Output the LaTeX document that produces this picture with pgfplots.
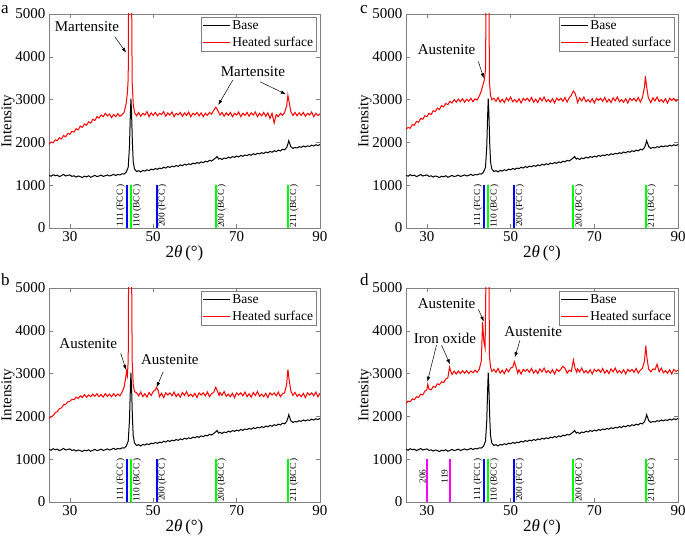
\documentclass[border=0pt]{standalone}
\usepackage{fontspec}
\setmainfont{Liberation Serif}
\usepackage{pgfplots}
\pgfplotsset{compat=1.18}
\usepackage{pgfplotstable}
\usetikzlibrary{arrows.meta}

\pgfplotstableread{
x y
25 1230
25.5 1210
26 1245
26.5 1220
27 1235
27.5 1200
28 1225
28.5 1250
29 1215
29.5 1230
30 1240
30.5 1205
31 1220
31.5 1190
32 1215
32.5 1200
33 1180
33.5 1210
34 1195
34.5 1220
35 1185
35.5 1205
36 1230
36.5 1200
37 1215
37.5 1235
38 1205
38.5 1220
39 1240
39.5 1215
40 1230
40.5 1255
41 1225
41.5 1250
42 1240
42.5 1265
43 1260
43.5 1300
44 1420
44.3 1900
44.5 2600
44.65 3020
44.8 2700
45 2000
45.2 1550
45.5 1380
46 1320
46.5 1340
47 1310
47.5 1345
48 1330
48.5 1360
49 1340
49.5 1375
50 1360
50.5 1390
51 1370
51.5 1400
52 1385
52.5 1420
53 1400
53.5 1435
54 1415
54.5 1445
55 1430
55.5 1460
56 1440
56.5 1475
57 1455
57.5 1490
58 1470
58.5 1500
59 1480
59.5 1515
60 1500
60.5 1530
61 1510
61.5 1545
62 1525
62.5 1560
63 1545
63.5 1580
64 1565
64.5 1600
65 1640
65.3 1670
65.7 1610
66 1630
66.5 1600
67 1635
67.5 1620
68 1655
68.5 1635
69 1670
69.5 1650
70 1680
70.5 1660
71 1695
71.5 1675
72 1705
72.5 1690
73 1720
73.5 1700
74 1735
74.5 1715
75 1745
75.5 1730
76 1760
76.5 1740
77 1775
77.5 1755
78 1790
78.5 1770
79 1805
79.5 1785
80 1820
80.5 1800
81 1840
81.5 1825
82 1880
82.3 1960
82.5 2040
82.8 1960
83 1900
83.5 1860
84 1880
84.5 1870
85 1900
85.5 1885
86 1915
86.5 1895
87 1920
87.5 1905
88 1935
88.5 1915
89 1945
89.5 1925
90 1950
}\base

\pgfplotstableread{
x y
25 1950
25.5 2010
26 1990
26.5 2060
27 2040
27.5 2110
28 2080
28.5 2160
29 2130
29.5 2210
30 2190
30.5 2260
31 2240
31.5 2320
32 2290
32.5 2380
33 2350
33.5 2430
34 2400
34.5 2480
35 2450
35.5 2540
36 2510
36.5 2600
37 2570
37.5 2640
38 2600
38.5 2680
39 2620
39.5 2660
40 2580
40.5 2650
41 2600
41.5 2670
42 2610
42.5 2640
43 2700
43.5 2900
43.8 3150
44.0 3500
44.1 5600
44.8 5600
44.95 3400
45.2 2900
45.5 2700
46 2620
46.5 2700
47 2610
47.5 2680
48 2640
48.5 2720
49 2600
49.5 2690
50 2630
50.5 2700
51 2620
51.5 2680
52 2650
52.5 2720
53 2610
53.5 2690
54 2640
54.5 2710
55 2600
55.5 2680
56 2640
56.5 2700
57 2610
57.5 2690
58 2630
58.5 2710
59 2600
59.5 2680
60 2640
60.5 2700
61 2620
61.5 2690
62 2600
62.5 2680
63 2630
63.5 2700
64 2660
64.5 2750
65 2820
65.3 2780
65.7 2700
66 2640
66.5 2700
67 2610
67.5 2690
68 2630
68.5 2700
69 2600
69.5 2680
70 2640
70.5 2710
71 2600
71.5 2680
72 2630
72.5 2700
73 2610
73.5 2690
74 2640
74.5 2710
75 2600
75.5 2680
76 2620
76.5 2700
77 2610
77.5 2690
78 2560
78.5 2680
79 2450
79.5 2650
80 2600
80.5 2680
81 2630
81.5 2700
82 2850
82.3 3100
82.6 2950
83 2720
83.5 2630
84 2700
84.5 2620
85 2690
85.5 2630
86 2700
86.5 2610
87 2680
87.5 2640
88 2710
88.5 2600
89 2680
89.5 2630
90 2660
}\reda

\pgfplotstableread{
x y
25 1950
25.5 1990
26 2020
26.5 2090
27 2110
27.5 2180
28 2200
28.5 2270
29 2280
29.5 2340
30 2350
30.5 2400
31 2390
31.5 2450
32 2420
32.5 2480
33 2440
33.5 2510
34 2450
34.5 2500
35 2460
35.5 2520
36 2470
36.5 2530
37 2460
37.5 2510
38 2450
38.5 2530
39 2470
39.5 2520
40 2460
40.5 2530
41 2470
41.5 2520
42 2480
42.5 2560
43 2680
43.4 2900
43.6 3050
43.8 2950
44.0 3300
44.1 5600
44.8 5600
44.95 3300
45.2 2750
45.5 2580
46 2550
46.5 2480
47 2570
47.5 2460
48 2530
48.5 2450
49 2560
49.5 2490
50 2580
50.5 2620
50.8 2680
51.2 2600
51.5 2460
52 2540
52.5 2440
53 2550
53.5 2500
54 2550
54.5 2480
55 2570
55.5 2460
56 2530
56.5 2450
57 2560
57.5 2490
58 2580
58.5 2470
59 2520
59.5 2460
60 2540
60.5 2440
61 2550
61.5 2500
62 2550
62.5 2480
63 2570
63.5 2460
64 2530
64.5 2560
65 2680
65.4 2590
65.8 2490
66 2560
66.5 2490
67 2580
67.5 2470
68 2520
68.5 2460
69 2540
69.5 2440
70 2550
70.5 2500
71 2550
71.5 2480
72 2570
72.5 2460
73 2530
73.5 2450
74 2560
74.5 2490
75 2580
75.5 2470
76 2520
76.5 2460
77 2540
77.5 2440
78 2550
78.5 2500
79 2550
79.5 2480
80 2570
80.5 2460
81 2530
81.5 2550
82 2750
82.3 3100
82.6 2850
83 2600
83.5 2490
84 2560
84.5 2470
85 2520
85.5 2460
86 2540
86.5 2440
87 2550
87.5 2500
88 2550
88.5 2480
89 2570
89.5 2460
90 2540
}\redb

\pgfplotstableread{
x y
25 2300
25.5 2350
26 2330
26.5 2420
27 2400
27.5 2490
28 2470
28.5 2560
29 2540
29.5 2620
30 2600
30.5 2680
31 2650
31.5 2740
32 2720
32.5 2800
33 2770
33.5 2860
34 2830
34.5 2910
35 2880
35.5 2960
36 2920
36.5 3000
37 2940
37.5 3010
38 2950
38.5 3020
39 2940
39.5 3010
40 2960
40.5 3030
41 2950
41.5 3020
42 2990
42.5 3080
43 3200
43.4 3350
43.7 3450
44.0 3700
44.15 5600
44.8 5600
44.95 3400
45.2 3100
45.5 3000
46 3030
46.5 2960
47 3050
47.5 2940
48 3010
48.5 2930
49 3040
49.5 2970
50 3060
50.5 2950
51 3000
51.5 2940
52 3020
52.5 2920
53 3030
53.5 2980
54 3030
54.5 2960
55 3050
55.5 2940
56 3010
56.5 2930
57 3040
57.5 2970
58 3060
58.5 2950
59 3000
59.5 2940
60 3020
60.5 2920
61 3030
61.5 2980
62 3030
62.5 2960
63 3050
63.5 2940
64 3040
64.5 3100
65 3200
65.4 3150
65.8 3020
66 2930
66.5 3040
67 2970
67.5 3060
68 2950
68.5 3000
69 2940
69.5 3020
70 2920
70.5 3030
71 2980
71.5 3030
72 2960
72.5 3050
73 2940
73.5 3010
74 2930
74.5 3040
75 2970
75.5 3060
76 2950
76.5 3000
77 2940
77.5 3020
78 2920
78.5 3030
79 2980
79.5 3030
80 2960
80.5 3050
81 2940
81.5 3050
82 3300
82.2 3550
82.5 3300
82.9 3050
83.5 2930
84 3040
84.5 2970
85 3060
85.5 2950
86 3000
86.5 2940
87 3020
87.5 2920
88 3030
88.5 2980
89 3030
89.5 2960
90 3000
}\redc

\pgfplotstableread{
x y
25 2300
25.5 2360
26 2340
26.5 2410
27 2390
27.5 2460
28 2440
28.5 2520
29 2500
29.5 2590
30 2620
30.2 2750
30.5 2640
31 2620
31.5 2700
32 2680
32.5 2760
33 2740
33.5 2810
34 2790
34.5 2870
35 2900
35.4 3150
35.7 3050
36 2980
36.5 3060
37 2990
37.5 3060
38 3000
38.5 3070
39 3010
39.5 3070
40 3000
40.5 3060
41 3020
41.5 3080
42 3030
42.5 3100
43 3300
43.3 4200
43.6 3750
43.9 3600
44.15 5600
44.8 5600
44.95 3400
45.2 3150
45.5 3050
46 3100
46.5 3030
47 3120
47.5 3010
48 3080
48.5 3000
49 3110
49.5 3040
50 3130
50.5 3150
50.9 3280
51.3 3150
51.7 3010
52 3090
52.5 2990
53 3100
53.5 3050
54 3100
54.5 3030
55 3120
55.5 3010
56 3080
56.5 3000
57 3110
57.5 3040
58 3130
58.5 3020
59 3070
59.5 3010
60 3090
60.5 2990
61 3100
61.5 3050
62 3100
62.5 3170
63 3120
63.5 3010
64 3080
64.5 3050
65 3320
65.4 3120
65.8 3030
66 3110
66.5 3040
67 3130
67.5 3020
68 3070
68.5 3010
69 3090
69.5 2990
70 3100
70.5 3050
71 3100
71.5 3030
72 3120
72.5 3010
73 3080
73.5 3000
74 3110
74.5 3040
75 3130
75.5 3020
76 3070
76.5 3010
77 3090
77.5 2990
78 3100
78.5 3050
79 3100
79.5 3030
80 3120
80.5 3010
81 3080
81.5 3120
82 3300
82.3 3650
82.6 3350
83 3100
83.5 3040
84 3110
84.5 3090
85 3220
85.5 3040
86 3130
86.5 3020
87 3070
87.5 3010
88 3090
88.5 2990
89 3100
89.5 3050
90 3080
}\redd

\definecolor{axgray}{RGB}{128,128,128}
\definecolor{refblue}{RGB}{0,0,255}
\definecolor{refgreen}{RGB}{0,255,0}
\definecolor{refmag}{RGB}{255,0,255}
\pgfplotsset{
  xrdax/.style={
    scale only axis, width=271pt, height=214pt,
    xmin=25, xmax=90, ymin=0, ymax=5000,
    xtick={30,50,70,90}, ytick={0,1000,2000,3000,4000,5000},
    scaled y ticks=false, scaled x ticks=false,
    /pgf/number format/1000 sep={},
    /pgf/number format/assume math mode=true,
    tick align=inside, tick pos=both,
    major tick length=4pt,
    axis line style={axgray},
    tick style={axgray, line width=0.5pt},
    ticklabel style={font=\fontsize{15}{16}\selectfont},
    ylabel={Intensity}, xlabel={2\textit{θ}\,(°)},
    ylabel style={font=\fontsize{15}{16}\selectfont, at={(axis description cs:-0.151,0.5)}, anchor=center},
    xlabel style={font=\fontsize{17}{18}\selectfont, at={(axis description cs:0.5,-0.117)}, anchor=center},
    legend style={at={(0.988,0.986)}, anchor=north east, draw=axgray, fill=white,
      font=\fontsize{13.5}{14}\selectfont, inner sep=1.5pt, row sep=1.5pt},
    legend cell align=left,
    legend image code/.code={\draw[##1] (0pt,0pt) -- (27pt,0pt);},
  },
  datal/.style={line width=1.0pt},
  refl/.style={line width=2pt, forget plot},
}
\tikzset{
  ann/.style={font=\fontsize{15}{16}\selectfont},
  arr/.style={-{Latex[length=5pt,width=3.5pt]}, line width=0.5pt},
  rl/.style={font=\fontsize{9.3}{10}\selectfont, rotate=90, inner sep=1.5pt},
}
\newcommand{\reflines}{%
  \addplot[refl, refblue] coordinates {(43.6,0) (43.6,1000)};
  \addplot[refl, refgreen] coordinates {(44.7,0) (44.7,1000)};
  \addplot[refl, refblue] coordinates {(50.8,0) (50.8,1000)};
  \addplot[refl, refgreen] coordinates {(65.0,0) (65.0,1000)};
  \addplot[refl, refgreen] coordinates {(82.3,0) (82.3,1000)};
  \node[rl, anchor=south east] at (axis cs:43.6,1060) {111 (FCC )};
  \node[rl, anchor=north east] at (axis cs:44.7,1060) {110 (BCC )};
  \node[rl, anchor=north east] at (axis cs:50.8,1060) {200 (FCC )};
  \node[rl, anchor=north east] at (axis cs:65.0,1060) {200 (BCC )};
  \node[rl, anchor=north east] at (axis cs:82.3,1060) {211 (BCC )};
}

\begin{document}
\begin{tikzpicture}[x=1pt,y=1pt]
\useasboundingbox (0,0) rectangle (685,537);

% panel a
\begin{axis}[xrdax, at={(49pt,309pt)}, anchor=south west]
\addplot[datal, black] table {\base};
\addlegendentry{Base}
\addplot[datal, red] table {\reda};
\addlegendentry{Heated surface}
\reflines
\node[ann] at (axis cs:34.1,4703) {Martensite};
\draw[arr] (axis cs:40.8,4469) -- (axis cs:43.5,4096);
\node[ann] at (axis cs:73.9,3652) {Martensite};
\draw[arr] (axis cs:69.1,3458) -- (axis cs:65.6,2874);
\draw[arr] (axis cs:75.6,3418) -- (axis cs:81.8,3125);
\end{axis}

% panel c
\begin{axis}[xrdax, width=272pt, at={(406pt,309pt)}, anchor=south west]
\addplot[datal, black] table {\base};
\addlegendentry{Base}
\addplot[datal, red] table {\redc};
\addlegendentry{Heated surface}
\reflines
\node[ann] at (axis cs:34.7,4159) {Austenite};
\draw[arr] (axis cs:42.3,3886) -- (axis cs:43.6,3498);
\end{axis}

% panel b
\begin{axis}[xrdax, at={(49pt,35pt)}, anchor=south west]
\addplot[datal, black] table {\base};
\addlegendentry{Base}
\addplot[datal, red] table {\redb};
\addlegendentry{Heated surface}
\reflines
\node[ann] at (axis cs:34.4,3692) {Austenite};
\draw[arr] (axis cs:42.2,3474) -- (axis cs:43.5,3084);
\node[ann] at (axis cs:54.0,3318) {Austenite};
\draw[arr] (axis cs:52.4,3044) -- (axis cs:50.8,2680);
\end{axis}

% panel d
\begin{axis}[xrdax, width=272pt, at={(406pt,35pt)}, anchor=south west]
\addplot[datal, black] table {\base};
\addlegendentry{Base}
\addplot[datal, red] table {\redd};
\addlegendentry{Heated surface}
\reflines
\addplot[refl, refmag] coordinates {(30.1,0) (30.1,1000)};
\addplot[refl, refmag] coordinates {(35.4,0) (35.4,1000)};
\node[rl, anchor=south east] at (axis cs:30.1,800) {206};
\node[rl, anchor=south east] at (axis cs:35.4,800) {119};
\node[ann] at (axis cs:34.7,4642) {Austenite};
\draw[arr] (axis cs:42.3,4502) -- (axis cs:43.6,4213);
\node[ann] at (axis cs:34.3,3824) {Iron oxide};
\draw[arr] (axis cs:32.3,3668) -- (axis cs:30.1,2811);
\draw[arr] (axis cs:33.5,3668) -- (axis cs:35.5,3217);
\node[ann] at (axis cs:55.4,3972) {Austenite};
\draw[arr] (axis cs:52.2,3769) -- (axis cs:51.0,3381);
\end{axis}

\node[anchor=base west, font=\fontsize{17}{18}\selectfont, inner sep=0pt] at (1,523) {a};
\node[anchor=base west, font=\fontsize{17}{18}\selectfont, inner sep=0pt] at (360,523) {c};
\node[anchor=base west, font=\fontsize{17}{18}\selectfont, inner sep=0pt] at (1,251) {b};
\node[anchor=base west, font=\fontsize{17}{18}\selectfont, inner sep=0pt] at (360,251) {d};
\end{tikzpicture}
\end{document}
